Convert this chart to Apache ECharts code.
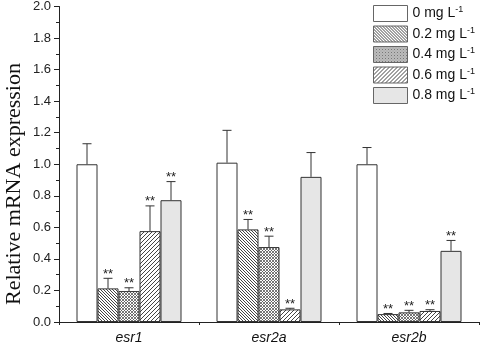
<!DOCTYPE html>
<html>
<head>
<meta charset="utf-8">
<script src="https://cdn.jsdelivr.net/npm/echarts@6/dist/echarts.min.js"></script>
<style>html,body{margin:0;padding:0;background:#fff}#c{width:484px;height:345px}</style>
</head>
<body>
<div id="c"></div>
<script>
// ---- data ----
const categories = ['esr1', 'esr2a', 'esr2b'];
const doses = ['0', '0.2', '0.4', '0.6', '0.8'];
const mean0  = [1.00, 1.01, 1.00];
const mean02 = [0.213, 0.587, 0.050];
const mean04 = [0.196, 0.475, 0.061];
const mean06 = [0.576, 0.080, 0.070];
const mean08 = [0.772, 0.920, 0.451];
const err0  = [0.13, 0.205, 0.106];
const err02 = [0.064, 0.063, 0.004];
const err04 = [0.021, 0.069, 0.013];
const err06 = [0.16, 0.007, 0.008];
const err08 = [0.118, 0.154, 0.066];
const sig0  = ['', '', ''];
const sig02 = ['**', '**', '**'];
const sig04 = ['**', '**', '**'];
const sig06 = ['**', '**', '**'];
const sig08 = ['**', '', '**'];
const yTicks = ['0.0','0.2','0.4','0.6','0.8','1.0','1.2','1.4','1.6','1.8','2.0'];

const means = [mean0, mean02, mean04, mean06, mean08];
const errs = [err0, err02, err04, err06, err08];
const sigs = [sig0, sig02, sig04, sig06, sig08];

// ---- patterns ----
function stripes(p, dir, color, lw) {
  const c = document.createElement('canvas');
  c.width = p; c.height = p;
  const g = c.getContext('2d');
  g.fillStyle = '#fff'; g.fillRect(0, 0, p, p);
  g.strokeStyle = color; g.lineWidth = lw;
  g.beginPath();
  if (dir === '\\' || dir === 'x') {
    g.moveTo(-1, -1); g.lineTo(p + 1, p + 1);
    g.moveTo(-1, p - 1); g.lineTo(1, p + 1);
    g.moveTo(p - 1, -1); g.lineTo(p + 1, 1);
  }
  if (dir === '/' || dir === 'x') {
    g.moveTo(-1, p + 1); g.lineTo(p + 1, -1);
    g.moveTo(-1, 1); g.lineTo(1, -1);
    g.moveTo(p - 1, p + 1); g.lineTo(p + 1, p - 1);
  }
  g.stroke();
  return { image: c, repeat: 'repeat' };
}
const fills = [
  '#ffffff',
  stripes(3, '\\', '#444', 1),
  stripes(3, 'x', '#555', 0.8),
  stripes(4, '/', '#444', 1),
  '#e6e6e6'
];

const names = doses.map(d => d + ' mg L-1');
const barW = 21;

const series = names.map((n, i) => ({
  name: n,
  type: 'bar',
  barWidth: barW,
  barGap: '0%',
  data: means[i],
  itemStyle: { color: fills[i], borderColor: '#333', borderWidth: 1 },
  emphasis: { disabled: true },
  z: 2
}));

const errData = [];
for (let i = 0; i < 5; i++) {
  for (let k = 0; k < categories.length; k++) {
    errData.push([k, means[i][k], errs[i][k], i, sigs[i][k]]);
  }
}

series.push({
  type: 'custom',
  data: errData,
  encode: { x: 0, y: 1 },
  z: 5,
  silent: true,
  renderItem: function (params, api) {
    const k = api.value(0), m = api.value(1), e = api.value(2), i = api.value(3);
    const s = errData[params.dataIndex][4];
    const off = (i - 2) * barW;
    const b = api.coord([k, m]);
    const t = api.coord([k, m + e]);
    const x = b[0] + off;
    const children = [];
    if (e > 0.003) {
      children.push({ type: 'line', shape: { x1: x, y1: b[1], x2: x, y2: t[1] }, style: { stroke: '#333', lineWidth: 1 } });
      children.push({ type: 'line', shape: { x1: x - 4.5, y1: t[1], x2: x + 4.5, y2: t[1] }, style: { stroke: '#333', lineWidth: 1 } });
    }
    if (s) {
      children.push({ type: 'text', style: { text: s, x: x, y: t[1] - 4, align: 'center', verticalAlign: 'middle', font: '13px "Liberation Sans"', fill: '#222' } });
    }
    return { type: 'group', children: children };
  }
});

const chart = echarts.init(document.getElementById('c'), null, { renderer: 'canvas' });
chart.setOption({
  animation: false,
  backgroundColor: '#fff',
  grid: { left: 59, right: 5, top: 6, bottom: 23, containLabel: false },
  legend: {
    data: names,
    orient: 'vertical',
    left: 373,
    top: 5,
    padding: 0,
    itemWidth: 34,
    itemHeight: 16,
    itemGap: 3.5,
    icon: 'rect',
    selectedMode: false,
    itemStyle: { borderColor: '#666', borderWidth: 1 },
    formatter: function (n) { return '{a|' + n.replace(' mg L-1', '') + ' mg L}{s|-1}'; },
    textStyle: {
      rich: {
        a: { fontFamily: 'Liberation Sans', fontSize: 14, color: '#111', lineHeight: 16 },
        s: { fontFamily: 'Liberation Sans', fontSize: 9, color: '#111', verticalAlign: 'top', lineHeight: 10 }
      }
    }
  },
  xAxis: {
    type: 'category',
    data: categories,
    axisLine: { lineStyle: { color: '#222', width: 1 } },
    axisTick: { show: true, alignWithLabel: false, length: 3, lineStyle: { color: '#222' } },
    axisLabel: { fontFamily: 'Liberation Sans', fontStyle: 'italic', fontSize: 14, color: '#111', margin: 9 }
  },
  yAxis: {
    type: 'value',
    min: 0, max: 2.0, interval: 0.2,
    axisLine: { show: true, lineStyle: { color: '#222', width: 1 } },
    axisTick: { show: true, length: 5, lineStyle: { color: '#222' } },
    minorTick: { show: true, splitNumber: 2, length: 3, lineStyle: { color: '#222' } },
    splitLine: { show: false },
    axisLabel: {
      fontFamily: 'Liberation Sans', fontSize: 13, color: '#222', margin: 8,
      formatter: function (v) { return yTicks[Math.round(v / 0.2)]; }
    }
  },
  graphic: [{
    type: 'text',
    x: 14, y: 184,
    rotation: Math.PI / 2,
    style: { text: 'Relative mRNA expression', font: '22px "Liberation Serif"', fill: '#111', align: 'center', verticalAlign: 'middle' }
  }],
  series: series
});
</script>
</body>
</html>
